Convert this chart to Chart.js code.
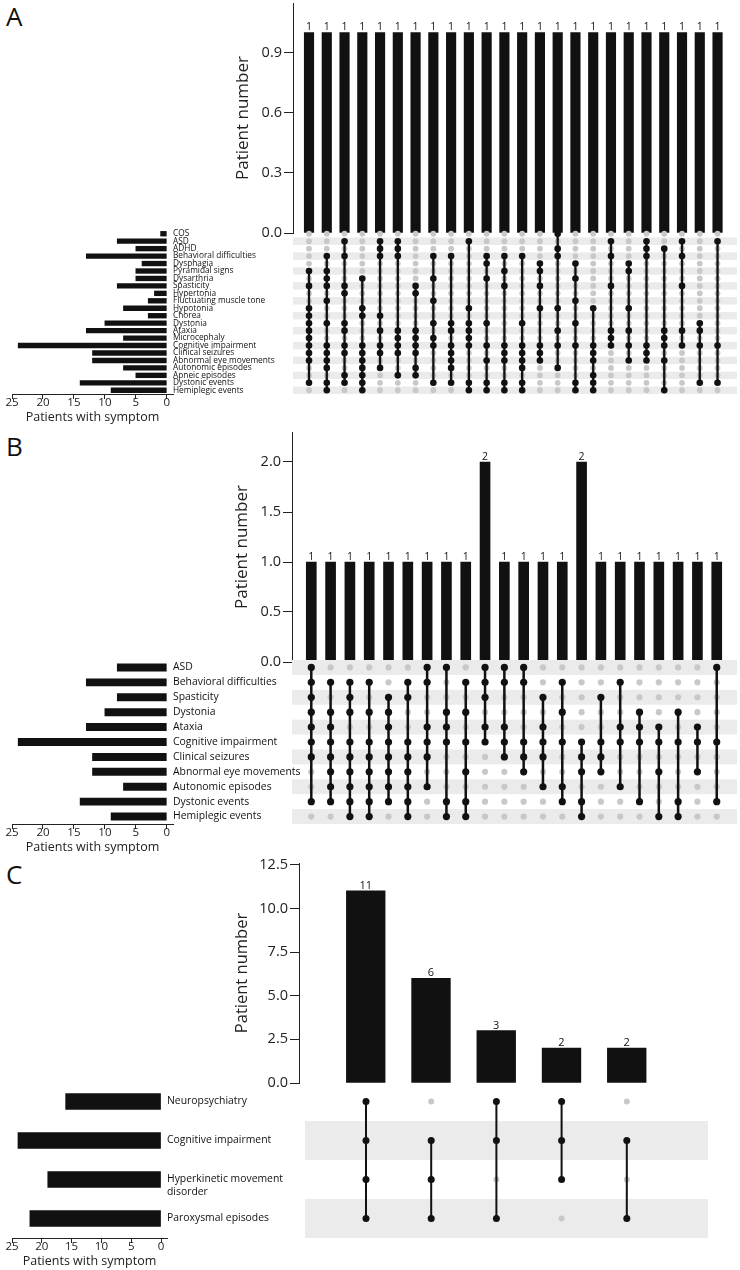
<!DOCTYPE html>
<html>
<head>
<meta charset="utf-8">
<script src="https://cdn.jsdelivr.net/npm/chart.js@4.4.1/dist/chart.umd.min.js"></script>
<style>
body { margin: 0; background: #fff; width: 740px; height: 1270px; position: relative; overflow: hidden; font-family: 'Open Sans', sans-serif; }
canvas { position: absolute; }
.tag { position: absolute; left: 6px; font-size: 26px; line-height: 26px; color: #111; }
</style>
</head>
<body>
<div class="tag" style="top:3px">A</div>
<div class="tag" style="top:433px">B</div>
<div class="tag" style="top:861px">C</div>
<script>
// ---- panel A ----
const setsA = ['COS', 'ASD', 'ADHD', 'Behavioral difficulties', 'Dysphagia', 'Pyramidal signs', 'Dysarthria',
    'Spasticity', 'Hypertonia', 'Fluctuating muscle tone', 'Hypotonia', 'Chorea', 'Dystonia', 'Ataxia',
    'Microcephaly', 'Cognitive impairment', 'Clinical seizures', 'Abnormal eye movements', 'Autonomic episodes',
    'Apneic episodes', 'Dystonic events', 'Hemiplegic events'];
const sizesA = [1, 8, 5, 13, 4, 5, 5, 8, 2, 3, 7, 3, 10, 13, 7, 24, 12, 12, 7, 5, 14, 9];
const countsA = [1, 1, 1, 1, 1, 1, 1, 1, 1, 1, 1, 1, 1, 1, 1, 1, 1, 1, 1, 1, 1, 1, 1, 1];
// rows (index into setsA) filled in each intersection column
const membersA = [
    [5, 7, 10, 11, 12, 13, 14, 15, 16, 17, 20],
    [3, 5, 6, 7, 9, 12, 15, 16, 17, 18, 20, 21],
    [1, 3, 7, 8, 12, 13, 15, 16, 19, 20],
    [6, 10, 11, 15, 16, 17, 18, 19, 20, 21],
    [1, 2, 3, 11, 13, 15, 16, 18],
    [1, 2, 3, 13, 14, 15, 16, 19],
    [7, 8, 13, 14, 15, 16, 18, 19],
    [3, 6, 9, 12, 14, 15, 20],
    [3, 12, 13, 15, 16, 17, 18, 20],
    [1, 10, 12, 13, 14, 15, 20, 21],
    [3, 4, 6, 12, 15, 17, 20, 21],
    [3, 5, 7, 15, 16, 17, 20, 21],
    [3, 12, 15, 16, 17, 18, 20, 21],
    [4, 5, 7, 10, 15, 16, 17],
    [0, 2, 3, 10, 13, 15, 18],
    [4, 6, 9, 12, 15, 20, 21],
    [10, 15, 16, 17, 19, 20, 21],
    [1, 3, 7, 13, 14, 15],
    [4, 5, 10, 13, 15, 17],
    [1, 2, 3, 15, 16, 17],
    [2, 13, 14, 15, 17, 21],
    [1, 3, 7, 13, 15],
    [12, 13, 15, 20],
    [1, 15, 20]
];
const ticksA = [0, 0.3, 0.6, 0.9];

// ---- panel B ----
const setsB = ['ASD', 'Behavioral difficulties', 'Spasticity', 'Dystonia', 'Ataxia', 'Cognitive impairment',
    'Clinical seizures', 'Abnormal eye movements', 'Autonomic episodes', 'Dystonic events', 'Hemiplegic events'];
const sizesB = [8, 13, 8, 10, 13, 24, 12, 12, 7, 14, 9];
const countsB = [1, 1, 1, 1, 1, 1, 1, 1, 1, 2, 1, 1, 1, 1, 2, 1, 1, 1, 1, 1, 1, 1];
const membersB = [
    [0, 1, 2, 3, 4, 5, 6, 9],
    [1, 3, 4, 5, 6, 7, 8, 9],
    [1, 2, 3, 5, 6, 7, 8, 9, 10],
    [1, 3, 5, 6, 7, 8, 9, 10],
    [2, 3, 4, 5, 6, 7, 8, 9],
    [1, 2, 5, 6, 7, 8, 9, 10],
    [0, 1, 4, 5, 6, 8],
    [0, 3, 4, 5, 9, 10],
    [1, 3, 5, 7, 9, 10],
    [0, 1, 2, 4, 5],
    [0, 1, 4, 5, 6],
    [0, 1, 5, 6, 7],
    [2, 4, 5, 6, 8],
    [1, 3, 5, 8, 9],
    [5, 6, 7, 9, 10],
    [2, 5, 6, 7],
    [1, 4, 5, 8],
    [3, 4, 5, 9],
    [4, 5, 7, 10],
    [3, 5, 9, 10],
    [4, 5, 7],
    [0, 5, 9]
];
const ticksB = [0, 0.5, 1, 1.5, 2];

// ---- panel C ----
const setsC = ['Neuropsychiatry', 'Cognitive impairment', ['Hyperkinetic movement', 'disorder'], 'Paroxysmal episodes'];
const sizesC = [16, 24, 19, 22];
const countsC = [11, 6, 3, 2, 2];
const membersC = [[0, 1, 2, 3], [1, 2, 3], [0, 1, 3], [0, 1, 2], [1, 3]];
const ticksC = [0, 2.5, 5, 7.5, 10, 12.5];
const symptomTicks = [0, 5, 10, 15, 20, 25];

Chart.defaults.font.family = "'Open Sans', sans-serif";
Chart.defaults.color = '#222';
const PAD = 16;
const INK = '#111';

// canvas sized so the chart area lands on the given page box
function place(l, t, r, b, axL, axR, axB) {
    const cv = document.createElement('canvas');
    const left = Math.round(l - axL - PAD), top = Math.round(t - PAD);
    cv.width = Math.round(r + axR + PAD) - left;
    cv.height = Math.round(b + axB + PAD) - top;
    cv.style.left = left + 'px';
    cv.style.top = top + 'px';
    document.body.appendChild(cv);
    return cv;
}

const valueLabels = {
    id: 'valueLabels',
    afterDatasetsDraw(chart, args, opts) {
        const ctx = chart.ctx;
        const ds = chart.data.datasets[0];
        ctx.save();
        ctx.font = opts.size + "px 'Open Sans'";
        ctx.fillStyle = INK;
        ctx.textAlign = 'center';
        ctx.textBaseline = 'alphabetic';
        chart.getDatasetMeta(0).data.forEach((bar, i) => {
            ctx.fillText(String(ds.data[i].y), bar.x, bar.y - 2);
        });
        ctx.restore();
    }
};

const stripes = {
    id: 'stripes',
    beforeDatasetsDraw(chart, args, opts) {
        const {ctx, chartArea: a} = chart;
        const y = chart.scales.y;
        ctx.save();
        ctx.fillStyle = '#ebebeb';
        opts.rows.forEach(r => {
            const y1 = y.getPixelForValue(r - 0.5), y2 = y.getPixelForValue(r + 0.5);
            ctx.fillRect(a.left, Math.min(y1, y2), a.right - a.left, Math.abs(y2 - y1));
        });
        ctx.restore();
    }
};

function drawTop(counts, yTicks, g) {
    const cv = place(g.axisX, g.top, g.right, g.zero, g.axisW, 0, 0);
    const xmin = -(g.col0 - g.axisX) / g.step;
    const xmax = xmin + (g.right - g.axisX) / g.step;
    new Chart(cv, {
        type: 'bar',
        data: { datasets: [{ data: counts.map((v, i) => ({ x: i, y: v })), backgroundColor: INK, barThickness: g.barW }] },
        options: {
            responsive: false, animation: false, events: [],
            layout: { padding: PAD },
            plugins: { legend: { display: false }, tooltip: { enabled: false }, valueLabels: { size: g.lbl } },
            scales: {
                x: { type: 'linear', min: xmin, max: xmax, offset: false, display: false },
                y: {
                    min: 0, max: g.yMax,
                    afterFit: s => { s.width = g.axisW; },
                    afterBuildTicks: s => { s.ticks = yTicks.map(v => ({ value: v })); },
                    grid: { drawOnChartArea: false, tickLength: 9, color: '#222' },
                    border: { color: '#222' },
                    ticks: { font: { size: 14.5 }, color: '#222', padding: 2, callback: v => v.toFixed(1) },
                    title: { display: true, text: 'Patient number', color: '#222', font: { size: g.titleSize } }
                }
            }
        },
        plugins: [valueLabels]
    });
}

function drawMatrix(members, nRows, shadeParity, g, m) {
    const cv = place(m.left, m.y0 - m.dy / 2, m.right, m.y0 + (nRows - 0.5) * m.dy, 0, 0, 0);
    const xmin = -(g.col0 - m.left) / g.step;
    const xmax = xmin + (m.right - m.left) / g.step;
    const on = [], off = [], links = [];
    members.forEach((rows, c) => {
        for (let r = 0; r < nRows; r++) (rows.includes(r) ? on : off).push({ x: c, y: r });
        links.push({
            data: [{ x: c, y: Math.min(...rows) }, { x: c, y: Math.max(...rows) }],
            showLine: true, borderColor: INK, borderWidth: m.lw, pointRadius: 0
        });
    });
    const shaded = [];
    for (let r = 0; r < nRows; r++) if (r % 2 === shadeParity) shaded.push(r);
    // first dataset is painted last: filled dots, then links, then empty dots underneath
    new Chart(cv, {
        type: 'scatter',
        data: {
            datasets: [
                { data: on, pointRadius: m.r, pointBackgroundColor: INK, pointBorderWidth: 0 },
                ...links,
                { data: off, pointRadius: m.r2, pointBackgroundColor: '#c8c8c8', pointBorderWidth: 0 }
            ]
        },
        options: {
            responsive: false, animation: false, events: [],
            layout: { padding: PAD },
            plugins: { legend: { display: false }, tooltip: { enabled: false }, stripes: { rows: shaded } },
            scales: {
                x: { type: 'linear', min: xmin, max: xmax, display: false },
                y: { type: 'linear', min: -0.5, max: nRows - 0.5, reverse: true, display: false }
            }
        },
        plugins: [stripes]
    });
}

function drawLeft(names, sizes, m, L) {
    const n = names.length;
    const unit = (L.zero - L.x25) / 25;
    const AXH = 31;
    const cv = place(L.x25, m.y0 - m.dy / 2, L.zero + unit, m.y0 + (n - 0.5) * m.dy, 0, L.labelW, AXH);
    new Chart(cv, {
        type: 'bar',
        data: { labels: names, datasets: [{ data: sizes, backgroundColor: INK, barThickness: L.barT }] },
        options: {
            indexAxis: 'y', responsive: false, animation: false, events: [],
            layout: { padding: PAD },
            plugins: { legend: { display: false }, tooltip: { enabled: false } },
            scales: {
                x: {
                    type: 'linear', min: -1, max: 25, reverse: true,
                    afterBuildTicks: s => { s.ticks = symptomTicks.map(v => ({ value: v })); },
                    afterFit: s => { s.height = AXH; },
                    grid: { drawOnChartArea: false, tickLength: 5, color: '#222' },
                    border: { color: '#222' },
                    ticks: { font: { size: 11.5 }, color: '#222', padding: -3, maxRotation: 0 },
                    title: { display: true, text: 'Patients with symptom', color: '#222', font: { size: 12.5 }, padding: { top: 0, bottom: 0 } }
                },
                y: {
                    position: 'right',
                    afterFit: s => { s.width = L.labelW; },
                    grid: { display: false, drawTicks: false },
                    border: { display: false },
                    ticks: {
                        autoSkip: false, font: { size: L.font }, color: INK, padding: L.pad,
                        // two-line labels sit with their first line on the bar
                        callback: function (v) {
                            const l = this.getLabelForValue(v);
                            return Array.isArray(l) ? [''].concat(l) : l;
                        }
                    }
                }
            }
        }
    });
}

// panel A
const gA = { axisX: 293.3, right: 737, col0: 309.3, step: 17.75, top: 3.3, zero: 232.7, yMax: 1.147, axisW: 64, barW: 9.5, lbl: 10.5, titleSize: 17 };
const mA = { left: 293.3, right: 737, y0: 234, dy: 7.43, r: 3.3, r2: 2.9, lw: 2.3 };
drawTop(countsA, ticksA, gA);
drawLeft(setsA, sizesA, mA, { x25: 11.7, zero: 166.7, labelW: 130, font: 8.3, barT: 4.7, pad: 0 });
drawMatrix(membersA, setsA.length, 1, gA, mA);

// panel B
const gB = { axisX: 291.7, right: 737, col0: 311, step: 19.32, top: 432.3, zero: 662.3, yMax: 2.3, axisW: 64, barW: 10, lbl: 10.5, titleSize: 17 };
const mB = { left: 291.7, right: 737, y0: 667.7, dy: 14.9, r: 3.6, r2: 3.1, lw: 2.5 };
drawTop(countsB, ticksB, gB);
drawLeft(setsB, sizesB, mB, { x25: 11.7, zero: 166.7, labelW: 135, font: 10.4, barT: 7.3, pad: 0 });
drawMatrix(membersB, setsB.length, 0, gB, mB);

// panel C
const gC = { axisX: 299.3, right: 710, col0: 366, step: 65.2, top: 863.3, zero: 1083.3, yMax: 12.6, axisW: 71, barW: 38.7, lbl: 11, titleSize: 16.5 };
const mC = { left: 305, right: 708, y0: 1101.3, dy: 39, r: 3.5, r2: 3, lw: 2 };
drawTop(countsC, ticksC, gC);
drawLeft(setsC, sizesC, mC, { x25: 11.7, zero: 161, labelW: 135, font: 10.4, barT: 16, pad: 0 });
drawMatrix(membersC, setsC.length, 1, gC, mC);
</script>
</body>
</html>
